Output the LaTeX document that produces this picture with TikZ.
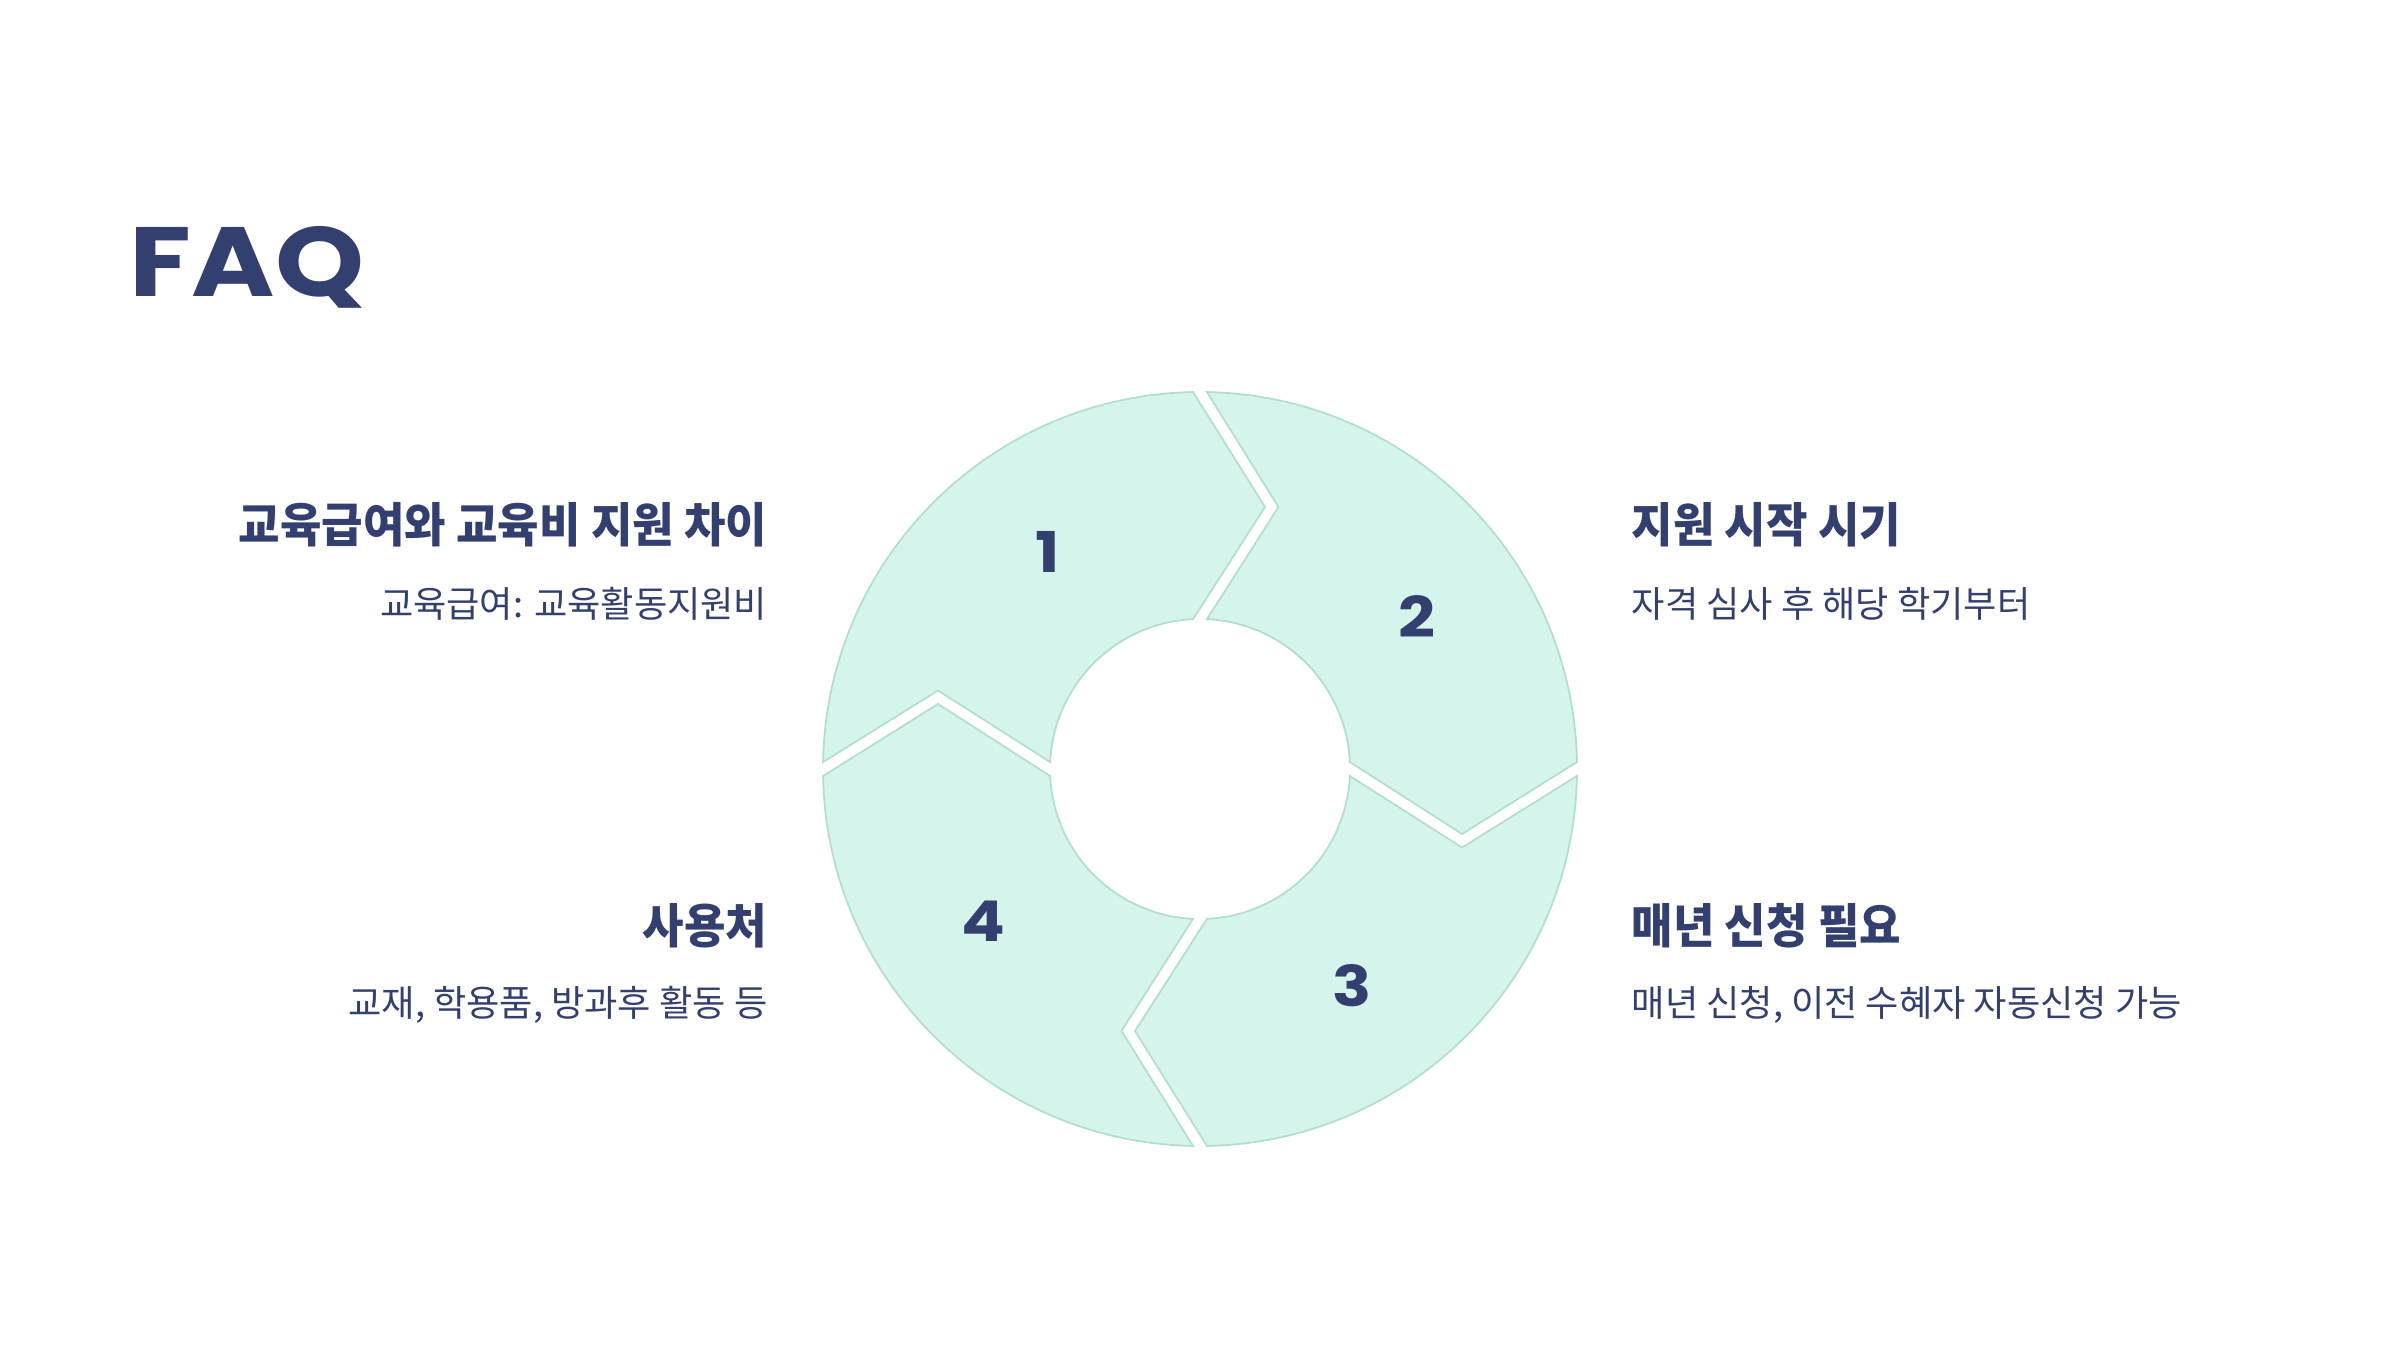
\documentclass[tikz,border=0pt]{standalone}
\usepackage{fontspec}
\setmainfont{Poppins}
\newfontfamily\krh[FakeStretch=0.95]{Noto Sans CJK KR}
\newfontfamily\kr{Noto Sans CJK KR}
\definecolor{navy}{HTML}{333F6E}
\definecolor{mint}{HTML}{D5F4EC}
\definecolor{mintline}{HTML}{B3DDD1}
\tikzset{
	seg/.style={fill=mint,draw=mintline,line width=0.5pt},
	head/.style={font=\krh\bfseries\fontsize{13.5}{16}\selectfont,text=navy,inner sep=0pt},
	sub/.style={font=\kr\fontsize{10.3}{13}\selectfont,text=navy,inner sep=0pt},
	num/.style={font=\bfseries\fontsize{16}{18}\selectfont,text=navy}
}
\begin{document}
\begin{tikzpicture}[declare function={R=3.77; r=1.5; m=2.65;}]
	\useasboundingbox[fill=white] (0,0) rectangle (24,13.5);
	\node[font=\bfseries\fontsize{28}{30}\selectfont,text=navy,anchor=base west,inner sep=0pt] (title) at (1.29,10.54) {\scalebox{1.15}[1]{FAQ}};
	\begin{scope}[shift={(12,5.81)}]
		\foreach \k in {0,...,3}
		\draw[seg,rotate=-90*\k] (178.94:R) arc[start angle=178.94,end angle=91.06,radius=R]
			-- (0.65,2.62) -- (92.67:r) arc[start angle=92.67,end angle=177.33,radius=r]
			-- (-2.62,0.785) -- cycle;
		\foreach \i/\a in {1/125,2/35,3/-55,4/-145}
		\node[num] (n\i) at (\a:m) {\scalebox{1.15}[1]{\i}};
	\end{scope}
	\node[head,anchor=east] (q1) at (7.68,8.25) {교육급여와 교육비 지원 차이};
	\node[sub,anchor=east] (a1) at (7.68,7.46) {교육급여: 교육활동지원비};
	\node[head,anchor=west] (q2) at (16.31,8.25) {지원 시작 시기};
	\node[sub,anchor=west] (a2) at (16.31,7.46) {자격 심사 후 해당 학기부터};
	\node[head,anchor=west] (q3) at (16.31,4.24) {매년 신청 필요};
	\node[sub,anchor=west] (a3) at (16.31,3.45) {매년 신청, 이전 수혜자 자동신청 가능};
	\node[head,anchor=east] (q4) at (7.68,4.24) {사용처};
	\node[sub,anchor=east] (a4) at (7.68,3.45) {교재, 학용품, 방과후 활동 등};
\end{tikzpicture}
\end{document}
